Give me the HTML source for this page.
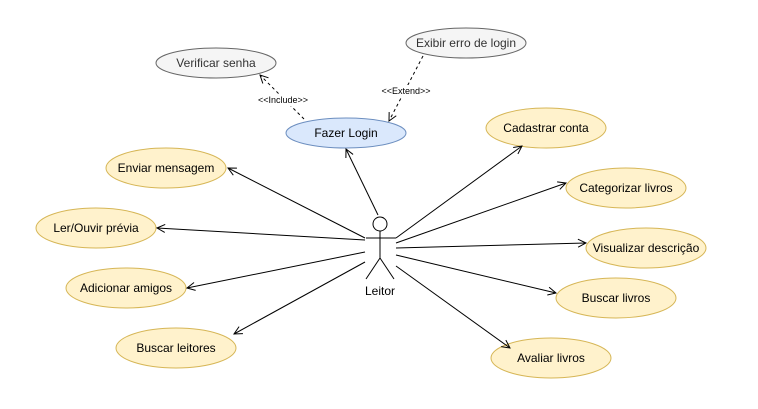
<!DOCTYPE html>
<html><head><meta charset="utf-8"><style>html,body{margin:0;padding:0;background:#fff}</style></head><body>
<svg width="758" height="404" xmlns="http://www.w3.org/2000/svg" font-family="Liberation Sans, sans-serif">
<defs>
<marker id="a" markerWidth="10" markerHeight="10" refX="9" refY="5" orient="auto" markerUnits="userSpaceOnUse"><path d="M1,1 L9,5 L1,9" fill="none" stroke="#000" stroke-width="1"/></marker>
</defs>
<g font-size="12" text-anchor="middle" dominant-baseline="central" fill="#000">
<g stroke="#666" fill="#f5f5f5"><ellipse cx="216" cy="63" rx="60" ry="15"/><ellipse cx="466" cy="43" rx="60" ry="15"/></g>
<text x="216" y="63" fill="#333">Verificar senha</text>
<text x="466" y="43" fill="#333">Exibir erro de login</text>
<ellipse cx="346" cy="133" rx="60" ry="15" fill="#dae8fc" stroke="#6c8ebf"/>
<text x="346" y="133">Fazer Login</text>
<g fill="#fff2cc" stroke="#d6b656">
<ellipse cx="166" cy="168" rx="60" ry="20"/><ellipse cx="96" cy="228" rx="60" ry="20"/>
<ellipse cx="126" cy="288" rx="60" ry="20"/><ellipse cx="176" cy="348" rx="60" ry="20"/>
<ellipse cx="546" cy="128" rx="60" ry="20"/><ellipse cx="626" cy="188" rx="60" ry="20"/>
<ellipse cx="646" cy="248" rx="60" ry="20"/><ellipse cx="616" cy="298" rx="60" ry="20"/>
<ellipse cx="551" cy="358" rx="60" ry="20"/>
</g>
<text x="166" y="168">Enviar mensagem</text><text x="96" y="228">Ler/Ouvir prévia</text>
<text x="126" y="288">Adicionar amigos</text><text x="176" y="348">Buscar leitores</text>
<text x="546" y="128">Cadastrar conta</text><text x="626" y="188">Categorizar livros</text>
<text x="646" y="248">Visualizar descrição</text><text x="616" y="298">Buscar livros</text>
<text x="551" y="358">Avaliar livros</text>
</g>
<g stroke="#000" stroke-width="1" fill="none" marker-end="url(#a)">
<line x1="365" y1="238" x2="228" y2="168"/>
<line x1="365" y1="240" x2="157" y2="228"/>
<line x1="365" y1="252" x2="187" y2="288"/>
<line x1="365" y1="262" x2="234" y2="334"/>
<line x1="378" y1="215" x2="346" y2="149"/>
<line x1="396" y1="238" x2="522" y2="146"/>
<line x1="396" y1="243" x2="566" y2="183"/>
<line x1="396" y1="248" x2="586" y2="243"/>
<line x1="396" y1="255" x2="556" y2="293"/>
<line x1="396" y1="266" x2="510" y2="348"/>
<line x1="304" y1="119" x2="260" y2="75" stroke-dasharray="3,3"/>
<line x1="423" y1="56" x2="389" y2="121" stroke-dasharray="3,3"/>
</g>
<rect x="254" y="94" width="58" height="12" fill="#fff"/>
<text x="283" y="100" font-size="9" text-anchor="middle" dominant-baseline="central">&lt;&lt;Include&gt;&gt;</text>
<rect x="378" y="85" width="58" height="12" fill="#fff"/>
<text x="406" y="91" font-size="9" text-anchor="middle" dominant-baseline="central">&lt;&lt;Extend&gt;&gt;</text>
<g stroke="#000" fill="none">
<circle cx="380" cy="224" r="7" fill="#fff"/>
<line x1="380" y1="231" x2="380" y2="258"/>
<line x1="366" y1="238" x2="396" y2="238"/>
<line x1="380" y1="258" x2="366" y2="279"/>
<line x1="380" y1="258" x2="394" y2="279"/>
</g>
<text x="380" y="291" font-size="12" text-anchor="middle" dominant-baseline="central">Leitor</text>
</svg>
</body></html>
